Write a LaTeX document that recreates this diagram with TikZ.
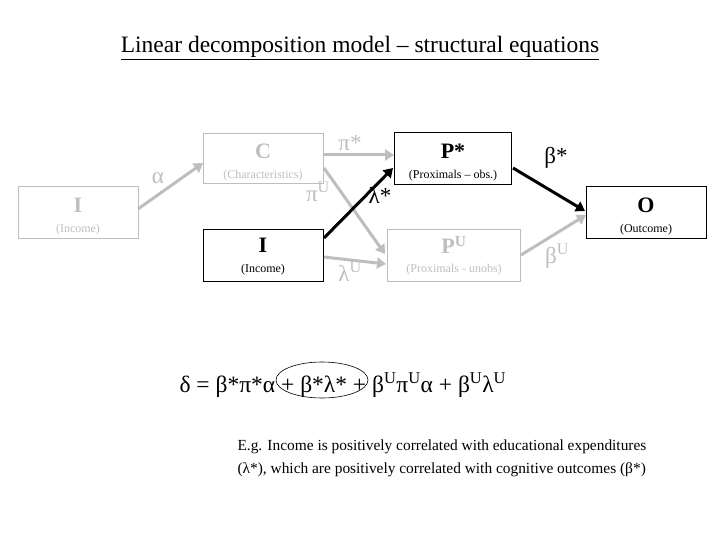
\documentclass[tikz,border=0pt]{standalone}
\usepackage{fontspec}
\setmainfont{Liberation Serif}
\usetikzlibrary{arrows.meta}
\begin{document}
\begin{tikzpicture}[x=1pt,y=-1pt,
 box/.style={draw,line width=0.8pt,minimum width=#1,minimum height=52pt,inner sep=0pt},
 gb/.style={box=#1,draw=lg,text=lg},
 big/.style={font=\fontsize{22}{24}\selectfont\bfseries},
 sm/.style={font=\fontsize{12}{14}\selectfont},
 gr/.style={font=\fontsize{23}{25}\selectfont},
 ga/.style={draw=lg,line width=3pt,-{Triangle[length=9pt,width=11pt]}},
 ba/.style={draw=black,line width=3pt,-{Triangle[length=9pt,width=11pt]}}]
\definecolor{lg}{RGB}{190,190,190}
\useasboundingbox (0,0) rectangle (720,540);
\node[font=\fontsize{23.5}{26}\selectfont] (title) at (360,48) {\underline{Linear decomposition model -- structural equations}};
\node[gb=120pt] (IL) at (78,212) {};
\node[gb=120pt,minimum height=50pt] (C) at (263,158) {};
\node[box=117pt] (P) at (453,158) {};
\node[box=120pt] (I) at (263,255) {};
\node[gb=133pt] (PU) at (454,255) {};
\node[box=120pt] (O) at (646,212) {};
\node[big,text=lg] (t1) at (78,205) {I}; \node[sm,text=lg] (s1) at (78,230) {(Income)};
\node[big,text=lg] (t2) at (263,151) {C}; \node[sm,text=lg] (s2) at (263,176) {(Characteristics)};
\node[big] (t3) at (453,151) {P*}; \node[sm] (s3) at (453,176) {(Proximals -- obs.)};
\node[big] (t4) at (263,245) {I}; \node[sm] (s4) at (263,270) {(Income)};
\node[big,text=lg] (t5) at (454,245) {P\textsuperscript{U}}; \node[sm,text=lg] (s5) at (454,270) {(Proximals - unobs)};
\node[big] (t6) at (646,205) {O}; \node[sm] (s6) at (646,230) {(Outcome)};
\coordinate (a1) at (138,209); \coordinate (a2) at (203,163);
\draw[ga] (a1) -- (a2);
\draw[ga] (C.east |- 0,155) -- (P.west |- 0,155);
\draw[ga] (324,168) -- (385,254);
\draw[ga] (324,257) -- (386,264);
\draw[ga] (521,255) -- (586,215);
\draw[ba] (324,238) -- (393,168);
\draw[ba] (513,168) -- (585,211);
\node[gr,text=lg] (la) at (158,178) {α};
\node[gr,text=lg] (lp) at (350,143) {π*};
\node[gr,text=lg] (lpu) at (318,192) {π\textsuperscript{U}};
\node[gr] (ll) at (380,195) {λ*};
\node[gr,text=lg] (llu) at (350,272) {λ\textsuperscript{U}};
\node[gr] (lb) at (556,158) {β*};
\node[gr,text=lg] (lbu) at (557,256) {β\textsuperscript{U}};
\node[font=\fontsize{23.5}{26}\selectfont,anchor=west] (eq) at (176,385) {δ\ = β*π*α + β*λ* + β\textsuperscript{U}π\textsuperscript{U}α + β\textsuperscript{U}λ\textsuperscript{U}};
\draw[line width=0.6pt] (322,380) ellipse (46pt and 18pt);
\node[font=\fontsize{15.4}{23}\selectfont,anchor=north west,align=left] (txt) at (234,436) {E.g. Income is positively correlated with educational expenditures\\(λ*), which are positively correlated with cognitive outcomes (β*)};
\end{tikzpicture}
\end{document}
